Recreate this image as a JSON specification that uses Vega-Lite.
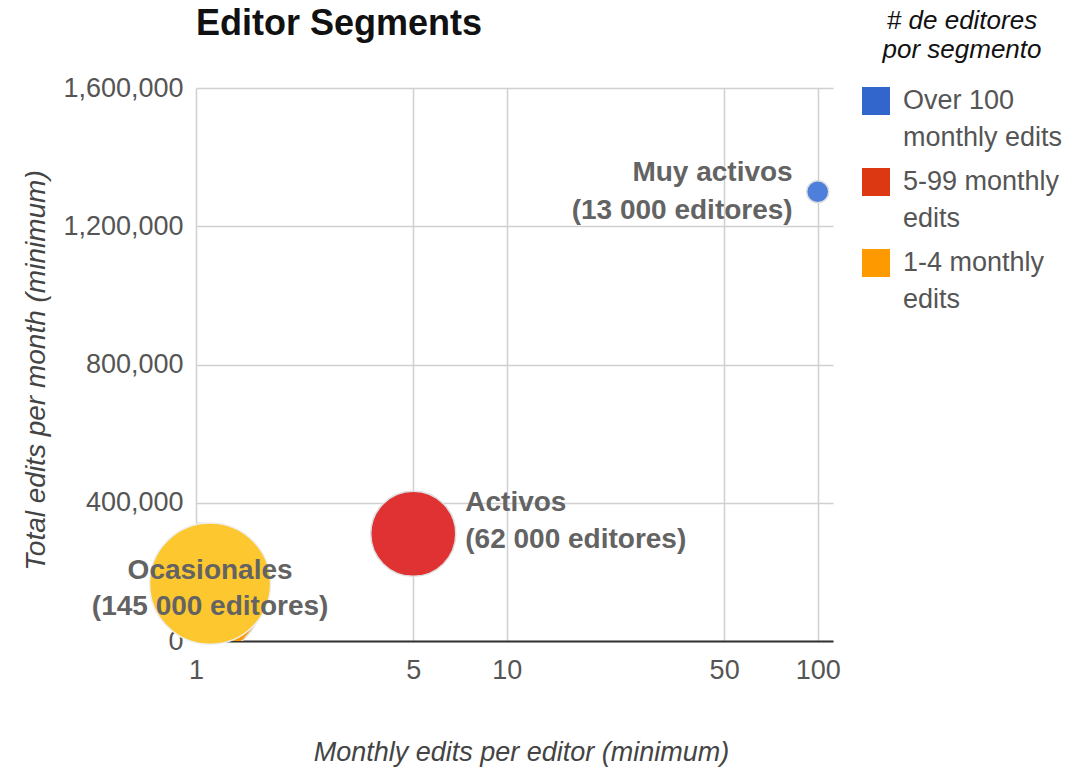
{
  "$schema": "https://vega.github.io/schema/vega-lite/v6.json",
  "width": 637,
  "height": 553,
  "autosize": {"type": "none"},
  "padding": {"left": 196, "top": 88, "right": 244, "bottom": 133},
  "background": "white",
  "config": {"view": {"stroke": null}, "font": "Liberation Sans", "style": {"guide-label": {"lineHeight": 37}}},
  "title": {
    "text": "Editor Segments",
    "anchor": "start",
    "frame": "group",
    "font": "Liberation Sans",
    "fontSize": 36,
    "fontWeight": "bold",
    "color": "#111111",
    "baseline": "alphabetic",
    "offset": 0,
    "dy": 63
  },
  "datasets": {
    "segments": [
      {"segment": "Over 100 monthly edits", "edits": 100, "total": 1300000, "editors": 13000, "name": "Muy activos", "label": "Muy activos\n(13 000 editores)"},
      {"segment": "5-99 monthly edits", "edits": 5, "total": 310000, "editors": 62000, "name": "Activos", "label": "Activos\n(62 000 editores)"},
      {"segment": "1-4 monthly edits", "edits": 1, "total": 145000, "editors": 145000, "name": "Ocasionales", "label": "Ocasionales\n(145 000 editores)"}
    ],
    "highlight": [
      {"edits": 1.11, "total": 166000, "name": "Ocasionales", "label": "Ocasionales\n(145 000 editores)"}
    ]
  },
  "encoding": {
    "x": {
      "field": "edits",
      "type": "quantitative",
      "scale": {"type": "log", "domain": [1, 112], "nice": false},
      "axis": {
        "title": "Monthly edits per editor (minimum)",
        "values": [1, 5, 10, 50, 100],
        "format": ",d",
        "grid": true,
        "gridColor": "#d0d0d0",
        "gridWidth": 1.5,
        "domainColor": "#333333",
        "domainWidth": 2,
        "ticks": false,
        "labelFlush": false,
        "labelOverlap": false,
        "labelFont": "Liberation Sans",
        "labelFontSize": 27,
        "labelColor": "#555555",
        "labelPadding": 16,
        "titleFont": "Liberation Sans",
        "titleFontSize": 27,
        "titleFontStyle": "italic",
        "titleFontWeight": "normal",
        "titleColor": "#444444",
        "titleX": 325,
        "titleY": 111,
        "titleAlign": "center",
        "titleBaseline": "middle"
      }
    },
    "y": {
      "field": "total",
      "type": "quantitative",
      "scale": {"domain": [0, 1600000], "nice": false},
      "axis": {
        "title": "Total edits per month (minimum)",
        "values": [0, 400000, 800000, 1200000, 1600000],
        "format": ",d",
        "grid": true,
        "gridColor": "#d0d0d0",
        "gridWidth": 1.5,
        "domain": false,
        "ticks": false,
        "labelOverlap": false,
        "labelFont": "Liberation Sans",
        "labelFontSize": 27,
        "labelColor": "#555555",
        "labelPadding": 13,
        "titleFont": "Liberation Sans",
        "titleFontSize": 28,
        "titleFontStyle": "italic",
        "titleFontWeight": "normal",
        "titleColor": "#444444",
        "titleX": -160,
        "titleY": 282,
        "titleAlign": "center",
        "titleBaseline": "middle"
      }
    }
  },
  "layer": [
    {
      "data": {"name": "segments"},
      "mark": {"type": "point", "filled": true, "opacity": 1, "size": 4, "shape": "square"},
      "encoding": {
        "color": {
          "field": "segment",
          "type": "nominal",
          "scale": {"domain": ["Over 100 monthly edits", "5-99 monthly edits", "1-4 monthly edits"], "range": ["#3366cc", "#dc3912", "#ff9900"]},
          "legend": {
            "title": ["# de editores", "por segmento"],
            "orient": "none",
            "legendX": 666,
            "legendY": -80,
            "padding": 0,
            "symbolType": "square",
            "symbolSize": 784,
            "symbolStrokeWidth": 0,
            "symbolOpacity": 1,
            "labelFont": "Liberation Sans",
            "labelFontSize": 27,
            "labelColor": "#555555",
            "labelOffset": 13,
            "labelLimit": 400,
            "labelBaseline": "middle",
            "labelExpr": "datum.label == 'Over 100 monthly edits' ? ['Over 100', 'monthly edits'] : datum.label == '5-99 monthly edits' ? ['5-99 monthly', 'edits'] : ['1-4 monthly', 'edits']",
            "titleFont": "Liberation Sans",
            "titleFontSize": 26,
            "titleFontStyle": "italic",
            "titleFontWeight": "normal",
            "titleColor": "#111111",
            "titleLineHeight": 29,
            "titleAnchor": "middle",
            "titlePadding": 24,
            "rowPadding": 17
          }
        }
      }
    },
    {
      "data": {"name": "segments"},
      "mark": {"type": "point", "filled": true, "opacity": 1, "clip": true, "stroke": "#dddddd", "strokeWidth": 1.5, "shape": "circle"},
      "encoding": {
        "fill": {
          "field": "segment",
          "type": "nominal",
          "scale": {"domain": ["Over 100 monthly edits", "5-99 monthly edits", "1-4 monthly edits"], "range": ["#4e7fdb", "#e03232", "#ff9900"]},
          "legend": null
        },
        "size": {
          "field": "editors",
          "type": "quantitative",
          "scale": {"domain": [13000, 62000, 145000], "range": [484, 7225, 18496]},
          "legend": null
        }
      }
    },
    {
      "data": {"name": "highlight"},
      "mark": {"type": "point", "filled": true, "opacity": 1, "size": 14641, "fill": "#fdc82f", "stroke": "#eeeeee", "strokeWidth": 1.5, "shape": "circle"}
    },
    {
      "data": {"name": "segments"},
      "transform": [{"filter": "datum.name == 'Muy activos'"}],
      "mark": {"type": "text", "lineBreak": "\n", "font": "Liberation Sans", "fontSize": 28, "fontWeight": "bold", "color": "#636363", "align": "right", "baseline": "middle", "dx": -25, "dy": -19, "lineHeight": 38},
      "encoding": {"text": {"field": "label", "type": "nominal"}}
    },
    {
      "data": {"name": "segments"},
      "transform": [{"filter": "datum.name == 'Activos'"}],
      "mark": {"type": "text", "lineBreak": "\n", "font": "Liberation Sans", "fontSize": 28, "fontWeight": "bold", "color": "#636363", "align": "left", "baseline": "middle", "dx": 52, "dy": -31, "lineHeight": 37},
      "encoding": {"text": {"field": "label", "type": "nominal"}}
    },
    {
      "data": {"name": "highlight"},
      "mark": {"type": "text", "lineBreak": "\n", "font": "Liberation Sans", "fontSize": 28, "fontWeight": "bold", "color": "#636363", "align": "center", "baseline": "middle", "dy": -13, "lineHeight": 36},
      "encoding": {"text": {"field": "label", "type": "nominal"}}
    }
  ]
}
